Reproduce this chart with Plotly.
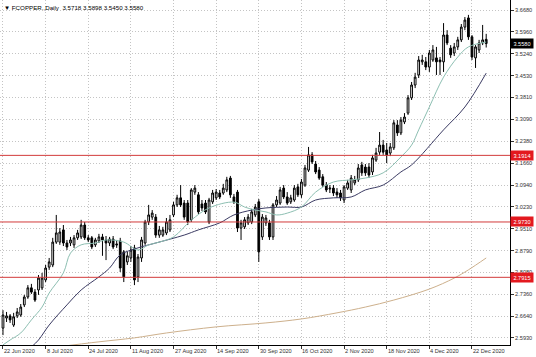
import plotly.graph_objects as go

# ---- data ----
opens = [
    2.625, 2.658, 2.665, 2.635, 2.665, 2.668, 2.701, 2.727, 2.757, 2.743,
    2.750, 2.757, 2.783, 2.825, 2.832, 2.907, 2.907, 2.947, 2.904, 2.904,
    2.898, 2.921, 2.924, 2.963, 2.921, 2.921, 2.898, 2.911, 2.924, 2.914,
    2.904, 2.917, 2.901, 2.911, 2.875, 2.842, 2.855, 2.888, 2.793, 2.855,
    2.904, 2.973, 2.989, 2.989, 2.930, 2.930, 2.937, 2.947, 2.996, 3.029,
    3.052, 3.035, 3.035, 2.980, 3.071, 3.062, 3.032, 3.035, 2.973, 3.039,
    3.052, 3.068, 3.068, 3.078, 3.117, 3.055, 3.071, 2.953, 2.957, 2.970,
    2.973, 2.996, 3.039, 2.924, 2.970, 2.970, 2.924, 3.029, 3.035, 3.084,
    3.055, 3.039, 3.045, 3.088, 3.062, 3.094, 3.143, 3.193, 3.163, 3.143,
    3.121, 3.094, 3.081, 3.084, 3.071, 3.068, 3.045, 3.084, 3.078, 3.101,
    3.111, 3.160, 3.153, 3.153, 3.137, 3.176, 3.202, 3.225, 3.209, 3.199,
    3.216, 3.291, 3.265, 3.301, 3.330, 3.380, 3.422, 3.455, 3.498, 3.498,
    3.481, 3.504, 3.511, 3.504, 3.498, 3.586, 3.543, 3.527, 3.547, 3.570,
    3.612, 3.642, 3.580, 3.511, 3.537, 3.560, 3.5718,
]
closes = [
    2.668, 2.665, 2.652, 2.662, 2.678, 2.694, 2.727, 2.757, 2.743, 2.717,
    2.789, 2.789, 2.822, 2.842, 2.907, 2.937, 2.940, 2.904, 2.891, 2.914,
    2.921, 2.937, 2.963, 2.921, 2.914, 2.891, 2.914, 2.924, 2.914, 2.904,
    2.917, 2.891, 2.898, 2.822, 2.793, 2.862, 2.881, 2.783, 2.858, 2.914,
    2.973, 2.996, 3.002, 2.930, 2.947, 2.947, 2.973, 2.980, 3.029, 3.052,
    3.029, 2.989, 2.973, 3.078, 3.084, 3.006, 3.019, 3.006, 3.045, 3.068,
    3.071, 3.055, 3.084, 3.111, 3.062, 3.039, 2.953, 2.970, 2.980, 2.989,
    3.006, 3.022, 2.875, 2.989, 2.986, 2.924, 3.029, 3.045, 3.078, 3.055,
    3.035, 3.052, 3.084, 3.062, 3.104, 3.150, 3.193, 3.170, 3.137, 3.117,
    3.094, 3.078, 3.084, 3.068, 3.062, 3.052, 3.088, 3.101, 3.117, 3.111,
    3.150, 3.134, 3.134, 3.127, 3.183, 3.199, 3.225, 3.202, 3.193, 3.219,
    3.298, 3.265, 3.307, 3.317, 3.380, 3.422, 3.448, 3.504, 3.504, 3.481,
    3.527, 3.537, 3.498, 3.498, 3.586, 3.560, 3.521, 3.547, 3.570, 3.612,
    3.635, 3.580, 3.514, 3.547, 3.560, 3.570, 3.558,
]
highs = [
    2.684, 2.678, 2.671, 2.675, 2.691, 2.704, 2.734, 2.766, 2.770, 2.753,
    2.799, 2.806, 2.832, 2.855, 2.921, 2.996, 2.953, 2.963, 2.914, 2.924,
    2.930, 2.947, 2.980, 2.973, 2.930, 2.927, 2.921, 2.934, 2.934, 2.927,
    2.924, 2.927, 2.914, 2.921, 2.881, 2.875, 2.894, 2.898, 2.868, 2.924,
    2.980, 3.029, 3.012, 2.999, 2.960, 2.957, 2.986, 2.996, 3.039, 3.062,
    3.094, 3.045, 3.045, 3.084, 3.094, 3.071, 3.045, 3.045, 3.052, 3.078,
    3.081, 3.078, 3.098, 3.121, 3.124, 3.065, 3.078, 2.980, 2.989, 2.999,
    3.016, 3.032, 3.048, 2.999, 2.996, 2.980, 3.035, 3.058, 3.088, 3.094,
    3.071, 3.062, 3.094, 3.098, 3.114, 3.160, 3.219, 3.202, 3.173, 3.153,
    3.130, 3.104, 3.094, 3.094, 3.084, 3.078, 3.094, 3.111, 3.127, 3.124,
    3.163, 3.170, 3.163, 3.166, 3.193, 3.216, 3.268, 3.242, 3.232, 3.232,
    3.307, 3.307, 3.317, 3.330, 3.389, 3.432, 3.462, 3.517, 3.521, 3.514,
    3.537, 3.553, 3.547, 3.514, 3.625, 3.602, 3.553, 3.560, 3.580, 3.622,
    3.645, 3.652, 3.586, 3.553, 3.570, 3.619, 3.5898,
]
lows = [
    2.602, 2.645, 2.642, 2.629, 2.658, 2.662, 2.694, 2.721, 2.737, 2.711,
    2.734, 2.750, 2.776, 2.816, 2.825, 2.901, 2.898, 2.894, 2.881, 2.894,
    2.888, 2.914, 2.917, 2.914, 2.907, 2.884, 2.891, 2.904, 2.862, 2.848,
    2.894, 2.884, 2.888, 2.809, 2.776, 2.832, 2.842, 2.766, 2.776, 2.842,
    2.898, 2.963, 2.980, 2.921, 2.921, 2.924, 2.930, 2.940, 2.989, 3.022,
    3.022, 2.980, 2.963, 2.973, 3.062, 2.999, 3.009, 2.999, 2.966, 3.032,
    3.045, 3.048, 3.062, 3.071, 3.052, 3.032, 2.940, 2.914, 2.950, 2.963,
    2.966, 2.989, 2.842, 2.914, 2.960, 2.914, 2.914, 3.022, 3.029, 3.048,
    3.029, 3.032, 3.039, 3.055, 3.052, 3.088, 3.137, 3.163, 3.130, 3.111,
    3.088, 3.071, 3.068, 3.058, 3.052, 3.042, 3.035, 3.078, 3.068, 3.094,
    3.104, 3.124, 3.124, 3.117, 3.127, 3.170, 3.193, 3.193, 3.166, 3.189,
    3.209, 3.255, 3.258, 3.294, 3.324, 3.373, 3.412, 3.445, 3.488, 3.471,
    3.465, 3.498, 3.455, 3.455, 3.465, 3.553, 3.511, 3.517, 3.537, 3.563,
    3.602, 3.570, 3.504, 3.478, 3.527, 3.553, 3.545,
]

# moving averages (bar index, price)
fast_idx = [0, 2, 5, 8, 11, 13, 17, 19, 22, 26, 29, 34, 38, 41, 44, 48, 53, 58, 65, 68,
            71, 74, 77, 80, 84, 88, 93, 98, 102, 107, 112, 115, 117, 120, 124, 128, 131, 136]
fast_val = [2.570, 2.586, 2.609, 2.652, 2.694, 2.740, 2.806, 2.871, 2.898, 2.904,
            2.914, 2.907, 2.881, 2.898, 2.907, 2.924, 2.979, 3.019, 3.038, 3.022,
            3.012, 3.006, 2.996, 3.002, 3.022, 3.071, 3.104, 3.111, 3.117, 3.134,
            3.186, 3.225, 3.275, 3.350, 3.448, 3.514, 3.547, 3.563]
slow_idx = [8, 10, 13, 18, 22, 27, 30, 33, 38, 43, 51, 55, 61, 65, 70, 74, 80, 84, 88, 93,
            98, 102, 107, 112, 115, 124, 130, 136]
slow_val = [2.563, 2.586, 2.635, 2.701, 2.750, 2.793, 2.822, 2.865, 2.888, 2.904,
            2.930, 2.947, 2.970, 2.996, 3.012, 3.019, 3.022, 3.022, 3.045, 3.052,
            3.055, 3.078, 3.094, 3.137, 3.160, 3.275, 3.350, 3.461]
long_idx = [15, 27, 37, 46, 60, 74, 84, 94, 102, 110, 120, 127, 131, 136]
long_val = [2.563, 2.580, 2.593, 2.609, 2.629, 2.642, 2.655, 2.675, 2.694, 2.717,
            2.753, 2.789, 2.816, 2.855]

level_lines = [3.1914, 2.9730, 2.7915]
last_price = 3.5580

date_tick_idx = [0, 12, 24, 36, 48, 60, 72, 84, 96, 108, 120, 132]
date_tick_text = ["22 Jun 2020", "8 Jul 2020", "24 Jul 2020", "11 Aug 2020", "27 Aug 2020",
                  "14 Sep 2020", "30 Sep 2020", "16 Oct 2020", "2 Nov 2020", "18 Nov 2020",
                  "4 Dec 2020", "22 Dec 2020"]
price_ticks = [3.6680, 3.5960, 3.5240, 3.4530, 3.3810, 3.3090, 3.2380, 3.1660,
               3.0940, 3.0230, 2.9510, 2.8790, 2.8080, 2.7360, 2.6640, 2.5930]
title_text = "▼ FCOPPER.,Daily  3.5718 3.5898 3.5450 3.5580"

# ---- figure ----
FONT = "Liberation Sans, Arial, sans-serif"
FS = 5.6
GRID_DASH = "1px,2px"
bars = list(range(len(opens)))

fig = go.Figure()
fig.add_trace(go.Scatter(x=long_idx, y=long_val, mode="lines", line_shape="spline",
                         line=dict(color="#cdb08c", width=1), hoverinfo="skip"))
fig.add_trace(go.Scatter(x=slow_idx, y=slow_val, mode="lines", line_shape="spline",
                         line=dict(color="#3b3b63", width=1), hoverinfo="skip"))
fig.add_trace(go.Scatter(x=fast_idx, y=fast_val, mode="lines", line_shape="spline",
                         line=dict(color="#8dbfb2", width=1), hoverinfo="skip"))
fig.add_trace(go.Candlestick(
    x=bars, open=opens, high=highs, low=lows, close=closes,
    increasing=dict(line=dict(color="black", width=1), fillcolor="white"),
    decreasing=dict(line=dict(color="black", width=1), fillcolor="black"),
    whiskerwidth=0, hoverinfo="skip"))

for lv in level_lines:
    fig.add_hline(y=lv, line=dict(color="#d23a3a", width=1))

annotations = []
for idx, txt in zip(date_tick_idx, date_tick_text):
    annotations.append(dict(x=idx, xref="x", y=0, yref="paper", xanchor="left",
                            yanchor="top", yshift=-1, xshift=-1, text=txt, showarrow=False,
                            font=dict(family=FONT, size=FS, color="#333333")))
for lv in level_lines:
    annotations.append(dict(x=1, xref="paper", y=lv, yref="y", xanchor="left",
                            yanchor="middle", text=f"{lv:.4f}", showarrow=False,
                            bgcolor="#e3191f", borderpad=1, width=20, height=7,
                            font=dict(family=FONT, size=FS, color="white")))
annotations.append(dict(x=1, xref="paper", y=last_price, yref="y", xanchor="left",
                        yanchor="middle", text=f"{last_price:.4f}", showarrow=False,
                        bgcolor="black", borderpad=1, width=20, height=7,
                        font=dict(family=FONT, size=FS, color="white")))
annotations.append(dict(x=0, xref="paper", y=1, yref="paper", xanchor="left",
                        yanchor="top", xshift=2, yshift=-2, text=title_text,
                        showarrow=False, font=dict(family=FONT, size=6.2, color="black")))

fig.update_layout(
    width=536, height=357,
    margin=dict(l=0, r=26, t=0, b=12),
    paper_bgcolor="white", plot_bgcolor="white",
    showlegend=False,
    font=dict(family=FONT, size=FS, color="#333333"),
    annotations=annotations,
    xaxis=dict(range=[-0.84, 142.7], tickvals=date_tick_idx, showticklabels=False,
               ticks="outside", ticklen=3, tickcolor="#333333",
               showgrid=True, gridcolor="#c4c4c4", griddash=GRID_DASH, gridwidth=1,
               showline=True, linecolor="black", linewidth=1, mirror=True,
               zeroline=False, rangeslider=dict(visible=False), fixedrange=True),
    yaxis=dict(range=[2.5696, 3.7008], side="right", tickvals=price_ticks,
               ticktext=[f"{v:.4f}" for v in price_ticks],
               ticks="outside", ticklen=3, tickcolor="#333333",
               tickfont=dict(family=FONT, size=FS, color="#333333"),
               showgrid=True, gridcolor="#c4c4c4", griddash=GRID_DASH, gridwidth=1,
               showline=True, linecolor="black", linewidth=1, mirror=True,
               zeroline=False, fixedrange=True),
)

fig.write_html("out.html", config={"displayModeBar": False})

# remove the browser's default page margin so the figure sits at (0, 0)
with open("out.html", "r", encoding="utf-8") as fh:
    page = fh.read()
page = page.replace("<head>", "<head><style>html,body{margin:0;padding:0;overflow:hidden;}</style>", 1)
with open("out.html", "w", encoding="utf-8") as fh:
    fh.write(page)
